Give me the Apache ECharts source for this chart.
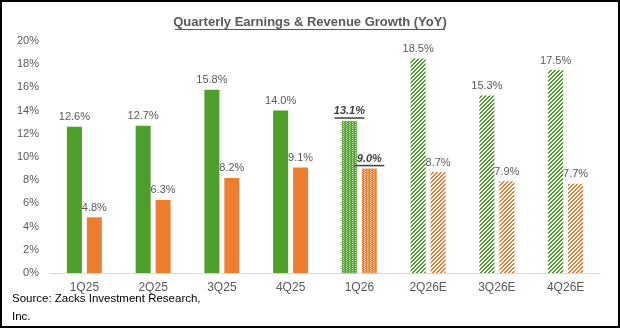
<!DOCTYPE html>
<html>
<head>
<meta charset="utf-8">
<script src="https://cdn.jsdelivr.net/npm/echarts@6/dist/echarts.min.js"></script>
<style>html,body{margin:0;padding:0;background:#fff;}#c{width:620px;height:328px;}</style>
</head>
<body>
<div id="c"></div>
<script>
var categories = ['1Q25','2Q25','3Q25','4Q25','1Q26','2Q26E','3Q26E','4Q26E'];
var earnings = [12.6, 12.7, 15.8, 14.0, 13.1, 18.5, 15.3, 17.5];
var revenue  = [4.8, 6.3, 8.2, 9.1, 9.0, 8.7, 7.9, 7.7];
// bar style per category: 'solid', 'dots' (current quarter), 'stripe' (estimate)
var styles = ['solid','solid','solid','solid','dots','stripe','stripe','stripe'];
var yTicks = [0,2,4,6,8,10,12,14,16,18,20];

var GREEN = '#4E9F2B', ORANGE = '#ED7D31';
var FONT = '"Liberation Sans", Arial, sans-serif';

function stripeTile(color) {
  var c = document.createElement('canvas'); c.width = 4; c.height = 4;
  var ctx = c.getContext('2d');
  ctx.fillStyle = '#ffffff'; ctx.fillRect(0,0,4,4);
  ctx.fillStyle = color;
  for (var x = 0; x < 4; x++) for (var y = 0; y < 4; y++) {
    if (((x + y) % 4) < 2) ctx.fillRect(x, y, 1, 1);
  }
  return {image: c, repeat: 'repeat'};
}
function dotTile(color) {
  var c = document.createElement('canvas'); c.width = 3; c.height = 2;
  var ctx = c.getContext('2d');
  ctx.fillStyle = color; ctx.fillRect(0,0,3,2);
  ctx.fillStyle = 'rgba(255,255,255,0.75)';
  ctx.fillRect(1,0,1,1);
  ctx.fillStyle = 'rgba(255,255,255,0.45)';
  ctx.fillRect(2,1,1,1);
  return {image: c, repeat: 'repeat'};
}

function buildData(values, color) {
  return values.map(function (v, i) {
    var s = styles[i];
    var item = {value: v};
    if (s === 'stripe') item.itemStyle = {color: stripeTile(color)};
    else if (s === 'dots') {
      item.itemStyle = {color: dotTile(color), borderColor: color, borderWidth: 0.6};
      item.label = {formatter: '{b|' + v.toFixed(1) + '%}\n{u|}', distance: 2};
    }
    return item;
  });
}

var labelRich = {
  b: {fontFamily: FONT, fontSize: 11, fontWeight: 'bold', fontStyle: 'italic', color: '#404040', lineHeight: 12},
  u: {width: 30, height: 1.5, backgroundColor: '#404040', lineHeight: 2}
};

function baseLabel() {
  return {show: true, position: 'top', distance: 4, color: '#595959', fontFamily: FONT, fontSize: 11,
    formatter: function (p) { return p.value.toFixed(1) + '%'; }, rich: labelRich};
}

var chart = echarts.init(document.getElementById('c'), null, {renderer: 'canvas'});
chart.setOption({
  animation: false,
  backgroundColor: '#ffffff',
  grid: {left: 50, right: 20, top: 41, bottom: 55},
  xAxis: {
    type: 'category', data: categories,
    axisLine: {lineStyle: {color: '#d9d9d9', width: 1}},
    axisTick: {show: false},
    axisLabel: {color: '#595959', fontFamily: FONT, fontSize: 12, margin: 9}
  },
  yAxis: {
    type: 'value', min: yTicks[0], max: yTicks[yTicks.length-1], interval: yTicks[1]-yTicks[0],
    splitLine: {show: false}, axisLine: {show: false}, axisTick: {show: false},
    axisLabel: {color: '#595959', fontFamily: FONT, fontSize: 11, margin: 11,
      formatter: function (v) { return v + '%'; }}
  },
  series: [
    {name: 'Earnings', type: 'bar', barWidth: 15, barGap: '33%', data: buildData(earnings, GREEN),
     itemStyle: {color: GREEN}, label: baseLabel()},
    {name: 'Revenue', type: 'bar', barWidth: 15, data: buildData(revenue, ORANGE),
     itemStyle: {color: ORANGE}, label: baseLabel()}
  ],
  graphic: [
    {type: 'rect', shape: {x: 1, y: 1, width: 618, height: 326}, style: {fill: 'none', stroke: '#000', lineWidth: 2}, silent: true},
    {type: 'text', x: 310, y: 22, style: {text: 'Quarterly Earnings & Revenue Growth (YoY)', fill: '#595959',
      fontFamily: FONT, fontSize: 13, fontWeight: 'bold', align: 'center', verticalAlign: 'middle'}},
    {type: 'line', shape: {x1: 175, y1: 29.5, x2: 445, y2: 29.5}, style: {stroke: '#595959', lineWidth: 1}},
    {type: 'text', left: 12, top: 290, style: {text: 'Source: Zacks Investment Research,\nInc.', fill: '#000',
      fontFamily: FONT, fontSize: 11.5, lineHeight: 18}}
  ]
});
</script>
</body>
</html>
